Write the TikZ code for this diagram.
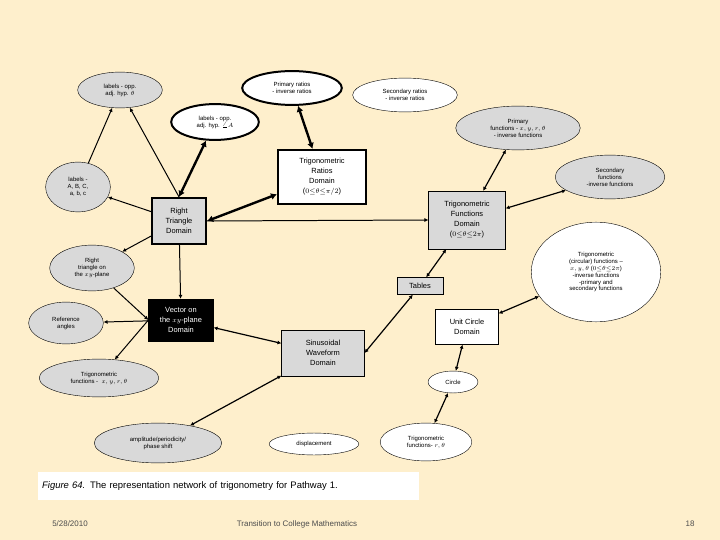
\documentclass[tikz,border=0pt]{standalone}
\usepackage{fontspec}
\setmainfont{Liberation Sans}
\usetikzlibrary{arrows.meta,shapes.geometric}
\definecolor{paper}{HTML}{FEEFCC}
\definecolor{boxgray}{HTML}{D9D9D9}
\begin{document}
\begin{tikzpicture}[x=1bp,y=-1bp,
    oval/.style={ellipse,draw,fill=boxgray,inner sep=0pt,align=center,font=\fontsize{6}{7}\selectfont},
    wov/.style={oval,fill=white},
    box/.style={rectangle,draw,fill=boxgray,align=center,inner sep=0pt,font=\fontsize{7.5}{10}\selectfont},
    link/.style={line width=1pt,-{Latex[length=4pt,width=4pt]}},
    both/.style={line width=1.2pt,{Latex[length=4pt,width=4pt]}-{Latex[length=4pt,width=4pt]}},
    fat/.style={line width=2.4pt,{Latex[length=6pt,width=7pt]}-{Latex[length=6pt,width=7pt]}}]
  \fill[paper] (0,0) rectangle (720,540);
  \useasboundingbox (0,0) rectangle (720,540);
  % top row
  \node[oval,minimum width=85,minimum height=36] (labTheta) at (120,90) {labels - opp.\\adj. hyp. $\theta$};
  \node[wov,line width=2pt,minimum width=100,minimum height=34] (primRat) at (292,88) {Primary ratios\\- inverse ratios};
  \node[wov,minimum width=105,minimum height=34] (secRat) at (405,95) {Secondary ratios\\- inverse ratios};
  \node[wov,line width=2pt,minimum width=88,minimum height=36] (labA) at (215,122) {labels - opp.\\adj. hyp. $\angle A$};
  \node[oval,minimum width=125,minimum height=44] (primFun) at (518,128) {Primary\\functions - $x, y, r, \theta$\\- inverse functions};
  \node[box,fill=white,line width=2.4pt,minimum width=88,minimum height=54] (trigRat) at (322,177) {Trigonometric\\Ratios\\Domain\\($0{\leq}\theta{\leq}\pi/2$)};
  \node[oval,minimum width=110,minimum height=44] (secFun) at (610,177) {Secondary\\functions\\-inverse functions};
  \node[oval,minimum width=65,minimum height=50] (labABC) at (78,187) {labels -\\A, B, C,\\a, b, c};
  % middle
  \node[box,line width=2.4pt,minimum width=54,minimum height=46] (rtDom) at (179,221) {Right\\Triangle\\Domain};
  \node[box,minimum width=77,minimum height=58] (trigFun) at (467,220) {Trigonometric\\Functions\\Domain\\($0{\leq}\theta{\leq}2\pi$)};
  \node[oval,minimum width=85,minimum height=46] (rtXY) at (92,268) {Right\\triangle on\\the $xy$-plane};
  \node[box,minimum width=46,minimum height=17] (tables) at (420,286) {Tables};
  \node[wov,minimum width=130,minimum height=100] (circFun) at (596,272) {Trigonometric\\(circular) functions --\\$x, y, \theta$ ($0{\leq}\theta{\leq}2\pi$)\\-inverse functions\\-primary and\\secondary functions};
  \node[box,fill=black,text=white,minimum width=65,minimum height=42] (vecDom) at (181,320) {Vector on\\the $xy$-plane\\Domain};
  \node[oval,minimum width=75,minimum height=42] (refAng) at (66,323) {Reference\\angles};
  \node[box,fill=white,minimum width=63,minimum height=35] (unitCirc) at (467,327) {Unit Circle\\Domain};
  \node[box,minimum width=83,minimum height=46] (sinDom) at (323,353) {Sinusoidal\\Waveform\\Domain};
  \node[oval,minimum width=120,minimum height=38] (trigXY) at (99,378) {Trigonometric\\functions - \ $x, y, r, \theta$};
  \node[wov,minimum width=50,minimum height=22] (circle) at (453,382) {Circle};
  % bottom row
  \node[oval,minimum width=128,minimum height=40] (amp) at (158,443) {amplitude/periodicity/\\phase shift};
  \node[wov,minimum width=90,minimum height=22] (displ) at (314,444) {displacement};
  \node[wov,minimum width=92,minimum height=38] (trigRT) at (426,442) {Trigonometric\\functions- $r, \theta$};
  % connectors
  \draw[link] (labABC) -- (labTheta);
  \draw[link] (rtDom.north) -- (labTheta);
  \draw[fat] (rtDom.north) -- (labA);
  \draw[fat] (rtDom.east) -- (trigRat);
  \draw[fat] (primRat) -- (trigRat);
  \draw[link] (rtDom) -- (labABC);
  \draw[link] (rtDom) -- (rtXY);
  \draw[link] (rtDom.east) -- (trigFun.west);
  \draw[link] (rtDom) -- (vecDom);
  \draw[both] (primFun) -- (trigFun);
  \draw[both] (secFun) -- (trigFun);
  \draw[both] (trigFun) -- (tables);
  \draw[both] (tables) -- (sinDom.east);
  \draw[both] (vecDom) -- (sinDom);
  \draw[link] (rtXY) -- (vecDom.west);
  \draw[link] (vecDom) -- (refAng);
  \draw[link] (vecDom.west) -- (trigXY);
  \draw[both] (sinDom) -- (amp);
  \draw[both] (unitCirc) -- (circFun);
  \draw[both] (unitCirc) -- (circle);
  \draw[both] (circle) -- (trigRT);
  % caption and footer
  \node[fill=white,anchor=west,minimum width=382,minimum height=28,inner sep=4pt,font=\fontsize{9.5}{11}\selectfont,text width=374] (caption) at (38,486) {\textit{Figure 64.} The representation network of trigonometry for Pathway 1.};
  \node[font=\fontsize{8}{10}\selectfont,text=black!70] (date) at (70,524) {5/28/2010};
  \node[font=\fontsize{8}{10}\selectfont,text=black!70] (title) at (297,524) {Transition to College Mathematics};
  \node[font=\fontsize{8}{10}\selectfont,text=black!70] (page) at (690,524) {18};
\end{tikzpicture}
\end{document}
